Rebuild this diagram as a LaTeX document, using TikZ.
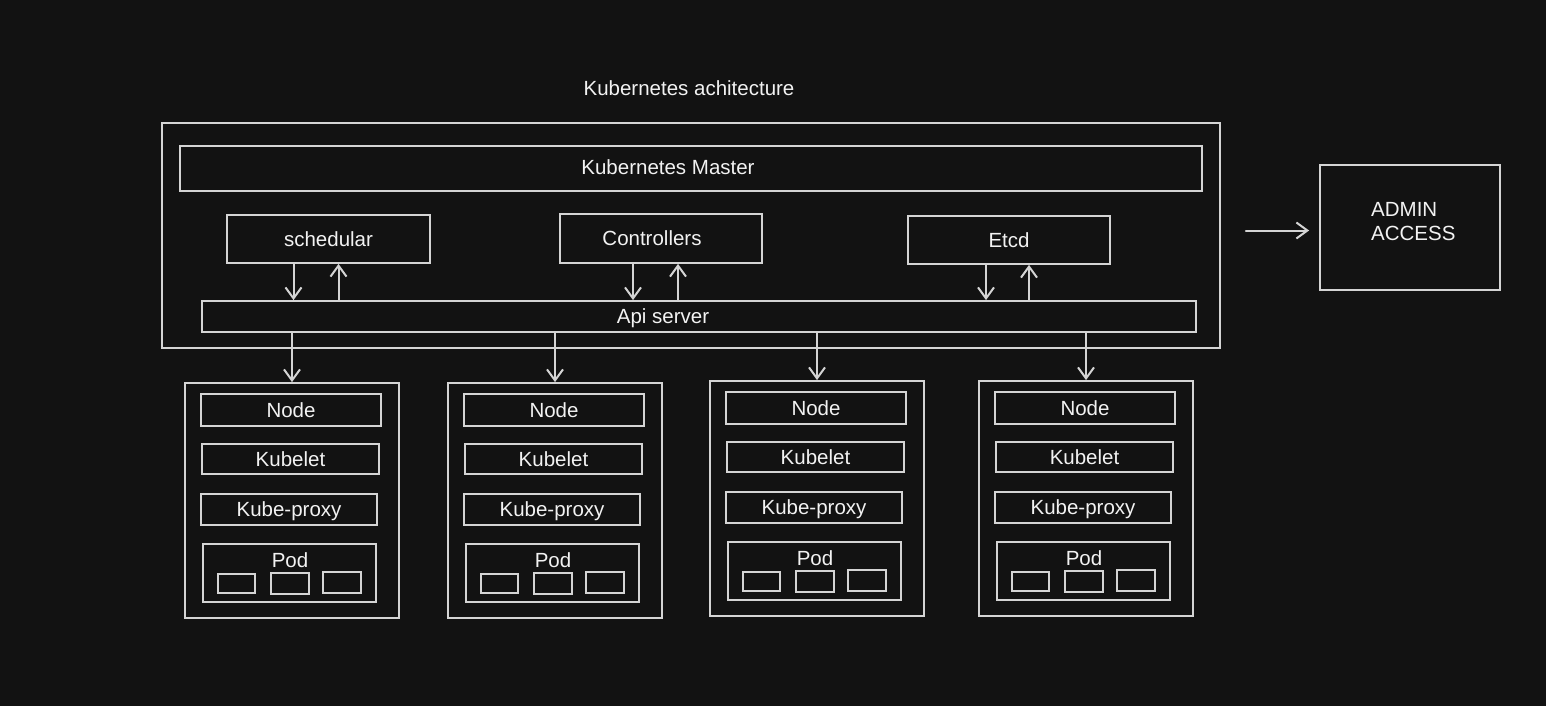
\documentclass[tikz,border=0pt]{standalone}
\usepackage{fontspec}
\setmainfont{Liberation Sans}
\usetikzlibrary{fit,arrows.meta}
\definecolor{bg}{HTML}{121212}
\definecolor{ink}{HTML}{D4D4D4}
\definecolor{txt}{HTML}{F2F2F2}
\begin{document}
\begin{tikzpicture}[x=1pt,y=-1pt,
  box/.style={draw=ink, line width=1.8pt, inner sep=0pt},
  lbl/.style={text=txt, inner sep=0pt, font=\fontsize{20.5}{24}\selectfont},
  arr/.style={draw=ink, line width=2pt, line cap=round, -{Straight Barb[length=11pt,width=16pt]}}]
\fill[bg] (0,0) rectangle (1546,706);
\useasboundingbox (0,0) rectangle (1546,706);

\node[lbl] (title) at (689,88) {Kubernetes achitecture};

\node[box, fit={(162,123) (1220,348)}] (master) {};
\node[box, fit={(180,146) (1202,191)}] (mbar) {};
\node[lbl] (mbartxt) at (668,167) {Kubernetes Master};
\node[box, fit={(227,215) (430,263)}, label={[lbl]center:schedular}] (sched) {};
\node[box, fit={(560,214) (762,263)}] (ctrl) {};
\node[lbl] (ctrltxt) at (652,238) {Controllers};
\node[box, fit={(908,216) (1110,264)}, label={[lbl]center:Etcd}] (etcd) {};
\node[box, fit={(202,301) (1196,332)}] (api) {};
\node[lbl] (apitxt) at (663,318) {Api server};

\draw[arr] ([xshift=-35]sched.south) -- ([xshift=-35]sched.south |- api.north);
\draw[arr] ([xshift=10]sched.south |- api.north) -- ([xshift=10]sched.south);
\draw[arr] ([xshift=-28]ctrl.south) -- ([xshift=-28]ctrl.south |- api.north);
\draw[arr] ([xshift=17]ctrl.south |- api.north) -- ([xshift=17]ctrl.south);
\draw[arr] ([xshift=-23]etcd.south) -- ([xshift=-23]etcd.south |- api.north);
\draw[arr] ([xshift=20]etcd.south |- api.north) -- ([xshift=20]etcd.south);

\node[box, fit={(1320,165) (1500,290)}] (admin) {};
\node[lbl, align=left, anchor=west] (admintxt) at (1371,222) {ADMIN\\ACCESS};
\draw[arr] ([xshift=25,yshift=-3]admin.west -| master.east) -- ([xshift=-10,yshift=-3]admin.west);

\foreach \i/\x/\y in {1/185/383,2/448/383,3/710/381,4/979/381}{
  \node[box, fit={(\x,\y) ({\x+214},{\y+235})}] (w\i) {};
  \node[box, fit={({\x+16},{\y+11}) ({\x+196},{\y+43})}, label={[lbl]center:Node}] (w\i-node) {};
  \node[box, fit={({\x+17},{\y+61}) ({\x+194},{\y+91})}, label={[lbl]center:Kubelet}] (w\i-kubelet) {};
  \node[box, fit={({\x+16},{\y+111}) ({\x+192},{\y+142})}, label={[lbl,yshift=-2pt]center:Kube-proxy}] (w\i-proxy) {};
  \node[box, fit={({\x+18},{\y+161}) ({\x+191},{\y+219})}] (w\i-pod) {};
  \node[lbl] (w\i-podlbl) at ({\x+105},{\y+177}) {Pod};
  \node[box, fit={({\x+33},{\y+191}) ({\x+70},{\y+210})}] (w\i-c1) {};
  \node[box, fit={({\x+86},{\y+190}) ({\x+124},{\y+211})}] (w\i-c2) {};
  \node[box, fit={({\x+138},{\y+189}) ({\x+176},{\y+210})}] (w\i-c3) {};
  \draw[arr] (api.south -| w\i.north) -- (w\i.north);
}
\end{tikzpicture}
\end{document}
